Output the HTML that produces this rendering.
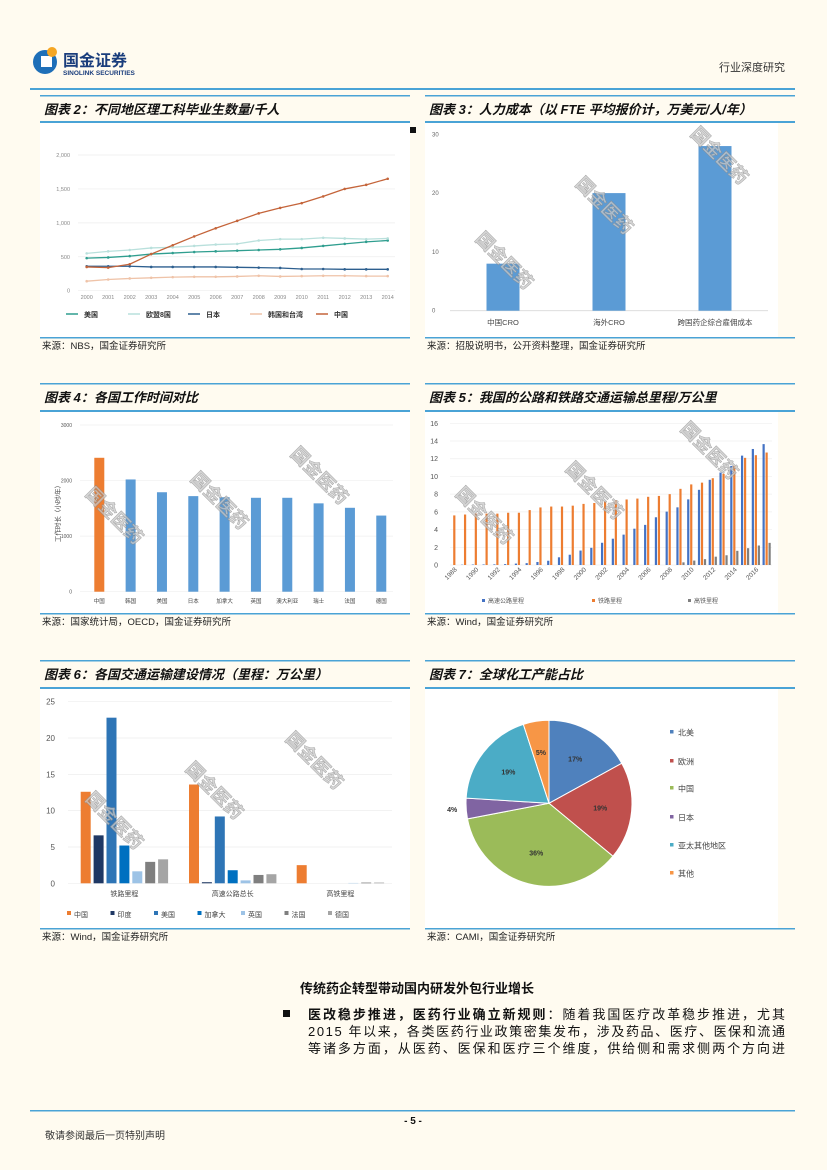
<!DOCTYPE html>
<html><head><meta charset="utf-8">
<style>
html,body{margin:0;padding:0;background:#fffbf0;}
svg{display:block;font-family:"Liberation Sans","Noto Sans CJK SC",sans-serif;}
</style></head><body>
<svg id="page" width="827" height="1170" viewBox="0 0 827 1170" xmlns="http://www.w3.org/2000/svg">
<rect x="0" y="0" width="827" height="1170" fill="#fffbf0"/>
<g>
<circle cx="45" cy="62" r="12" fill="#1e6fb8"/>
<rect x="41" y="56" width="11" height="11" fill="#fff"/>
<circle cx="52" cy="52" r="5" fill="#f5a623"/>
<text x="63" y="66" font-size="16" font-weight="bold" fill="#1a3d7c">国金证券</text>
<text x="63" y="75" font-size="6.5" font-weight="bold" fill="#1a3d7c">SINOLINK SECURITIES</text>
</g>
<text x="785" y="71" font-size="11" fill="#333" text-anchor="end">行业深度研究</text>
<rect x="30" y="88" width="765" height="2" fill="#4aa3d6"/>

<g id="frames"></g>
<g id="c2"></g><g id="c3"></g><g id="c4"></g><g id="c5"></g><g id="c6"></g><g id="c7"></g>
<g id="wm"></g>

<text x="300" y="993" font-size="13" font-weight="bold" fill="#111">传统药企转型带动国内研发外包行业增长</text>
<rect x="283" y="1010" width="7" height="7" fill="#111"/>
<g font-size="13" fill="#111">
<text x="308" y="1019" textLength="477"><tspan font-weight="bold">医改稳步推进，医药行业确立新规则</tspan>：随着我国医疗改革稳步推进，尤其</text>
<text x="308" y="1036" textLength="477">2015 年以来，各类医药行业政策密集发布，涉及药品、医疗、医保和流通</text>
<text x="308" y="1053" textLength="477">等诸多方面，从医药、医保和医疗三个维度，供给侧和需求侧两个方向进</text>
</g>
<rect x="30" y="1110" width="765" height="1.5" fill="#4aa3d6"/>
<text x="413" y="1124" font-size="10" font-weight="bold" text-anchor="middle" fill="#111">- 5 -</text>
<text x="45" y="1139" font-size="10" fill="#333">敬请参阅最后一页特别声明</text>
</svg>
<script>
const NS="http://www.w3.org/2000/svg";
function mk(p,tag,attrs,txt){const e=document.createElementNS(NS,tag);for(const k in attrs)e.setAttribute(k,attrs[k]);if(txt!==undefined)e.textContent=txt;p.appendChild(e);return e;}
const $=id=>document.getElementById(id);

const c2Years=["2000","2001","2002","2003","2004","2005","2006","2007","2008","2009","2010","2011","2012","2013","2014"];
const c2US=[480,490,510,540,555,570,580,590,600,610,630,660,690,720,740];
const c2EU8=[550,580,600,630,640,660,680,690,740,760,760,780,770,760,770];
const c2JP=[360,360,360,350,350,350,350,345,340,335,320,320,315,315,315];
const c2KT=[140,165,180,190,200,205,205,210,220,210,215,220,220,215,215];
const c2CN=[350,340,390,540,670,800,920,1030,1140,1220,1290,1390,1500,1560,1650];
const c2Ticks=[0,500,1000,1500,2000];
const c2TickLabels=["0","500","1,000","1,500","2,000"];

const c3Cats=["中国CRO","海外CRO","跨国药企综合雇佣成本"];
const c3Vals=[8,20,28];
const c3Ticks=[0,10,20,30];

const c4Cats=["中国","韩国","美国","日本","加拿大","英国","澳大利亚","瑞士","法国","德国"];
const c4Vals=[2410,2020,1790,1720,1700,1690,1690,1590,1510,1370];
const c4Ticks=[0,1000,2000,3000];

const c5Years=[];for(let y=1988;y<=2017;y++)c5Years.push(String(y));
const c5Highway=[0,0.03,0.05,0.06,0.07,0.1,0.16,0.21,0.34,0.48,0.87,1.16,1.63,1.94,2.51,2.97,3.43,4.1,4.53,5.39,6.03,6.51,7.41,8.49,9.62,10.44,11.19,12.35,13.1,13.65];
const c5Rail=[5.6,5.7,5.8,5.8,5.8,5.9,5.9,6.2,6.5,6.6,6.6,6.7,6.9,7.0,7.2,7.3,7.4,7.5,7.7,7.8,8.0,8.6,9.1,9.3,9.8,10.3,11.2,12.1,12.4,12.7];
const c5HSR=[0,0,0,0,0,0,0,0,0,0,0,0,0,0,0,0,0,0,0,0,0,0.3,0.5,0.66,0.94,1.1,1.6,1.9,2.2,2.5];
const c5Ticks=[0,2,4,6,8,10,12,14,16];

const c6Groups=["铁路里程","高速公路总长","高铁里程"];
const c6Countries=["中国","印度","美国","加拿大","英国","法国","德国"];
const c6Rail=[12.6,6.6,22.8,5.2,1.65,2.95,3.3];
const c6Highway=[13.6,0.15,9.2,1.8,0.4,1.15,1.25];
const c6HSR=[2.5,0,0,0,0.05,0.1,0.1];
const c6Ticks=[0,5,10,15,20,25];

const c7Labels=["北美","欧洲","中国","日本","亚太其他地区","其他"];
const c7Vals=[17,19,36,4,19,5];

const F=$('frames');
const panels=[
 {x:40,t:"图表 2：不同地区理工科毕业生数量/千人",ty:95,py:121,pb:337,src:"来源：NBS，国金证券研究所"},
 {x:425,t:"图表 3：人力成本（以 FTE 平均报价计，万美元/人/年）",ty:95,py:121,pb:337,src:"来源：招股说明书，公开资料整理，国金证券研究所"},
 {x:40,t:"图表 4：各国工作时间对比",ty:383,py:410,pb:613,src:"来源：国家统计局，OECD，国金证券研究所"},
 {x:425,t:"图表 5：我国的公路和铁路交通运输总里程/万公里",ty:383,py:410,pb:613,src:"来源：Wind，国金证券研究所"},
 {x:40,t:"图表 6：各国交通运输建设情况（里程：万公里）",ty:660,py:687,pb:928,src:"来源：Wind，国金证券研究所"},
 {x:425,t:"图表 7：全球化工产能占比",ty:660,py:687,pb:928,src:"来源：CAMI，国金证券研究所"}];
panels.forEach((p,i)=>{
 let e=mk(F,'rect',{x:p.x,y:p.ty,width:370,height:1.5,fill:'#4aa3d6'});
 
 e=mk(F,'text',{x:p.x+4,y:p.ty+19,'font-size':13,'font-weight':'bold','font-style':'italic',fill:'#111'},p.t);
 
 e=mk(F,'rect',{x:p.x,y:p.py,width:370,height:2,fill:'#4aa3d6'});
 
 e=mk(F,'rect',{x:p.x,y:p.py+2,width:i%2?353:370,height:p.pb-p.py-2,fill:'#ffffff'});
 
 e=mk(F,'rect',{x:p.x,y:p.pb,width:370,height:1.5,fill:'#4aa3d6'});
 
 e=mk(F,'text',{x:p.x+2,y:p.pb+12,'font-size':9.5,fill:'#222'},p.src);
 
});
{let e=mk(F,'rect',{x:410,y:127,width:6,height:6,fill:'#111'});}

function lin(d0,d1,r0,r1){return v=>r0+(v-d0)/(d1-d0)*(r1-r0);}

(function(){
 const g=$('c2');const y=lin(0,2000,290.7,155);const x=i=>86.7+i*(387.7-86.7)/14;
 c2Ticks.forEach((t,i)=>{let e=mk(g,'line',{x1:78,x2:395,y1:y(t),y2:y(t),stroke:'#eeeeee','stroke-width':0.7});
  e=mk(g,'text',{x:70,y:y(t)+2,'font-size':5.5,fill:'#888','text-anchor':'end'},c2TickLabels[i]);});
 c2Years.forEach((yr,i)=>{const e=mk(g,'text',{x:x(i),y:299,'font-size':5.5,fill:'#888','text-anchor':'middle'},yr);});
 const series=[[c2US,'#2f9e8f','美国'],[c2EU8,'#b9e0dc','欧盟8国'],[c2JP,'#2d5f8f','日本'],[c2KT,'#efc3a8','韩国和台湾'],[c2CN,'#c4643a','中国']];
 const lx=[66,128,188,250,316];
 series.forEach((s,k)=>{
  const pts=s[0].map((v,i)=>x(i)+','+y(v)).join(' ');
  let e=mk(g,'polyline',{points:pts,fill:'none',stroke:s[1],'stroke-width':1.3});
  s[0].forEach((v,i)=>{const m=mk(g,'circle',{cx:x(i),cy:y(v),r:1.3,fill:s[1]});});
  e=mk(g,'line',{x1:lx[k],x2:lx[k]+12,y1:314,y2:314,stroke:s[1],'stroke-width':1.5});
  e=mk(g,'text',{x:lx[k]+18,y:317,'font-size':7,'font-weight':'bold',fill:'#333'},s[2]);
 });
})();

(function(){
 const g=$('c3');const y=lin(0,30,310.7,134.3);const cx=[503,609,715];
 c3Ticks.forEach(t=>{let e=mk(g,'text',{x:432,y:y(t)+2,'font-size':6,fill:'#666'},String(t));});
 let e=mk(g,'line',{x1:450,x2:768,y1:y(0),y2:y(0),stroke:'#d9d9d9','stroke-width':0.8});
 c3Vals.forEach((v,i)=>{let b=mk(g,'rect',{x:cx[i]-16.5,y:y(v),width:33,height:y(0)-y(v),fill:'#5b9bd5'});
  b=mk(g,'text',{x:cx[i],y:325,'font-size':7.5,fill:'#444','text-anchor':'middle'},c3Cats[i]);});
})();

(function(){
 const g=$('c4');const y=lin(0,3000,591.7,425);const cx=i=>99.3+i*31.33;
 c4Ticks.forEach(t=>{let e=mk(g,'line',{x1:80,x2:393,y1:y(t),y2:y(t),stroke:'#efefef','stroke-width':0.7});
  e=mk(g,'text',{x:72,y:y(t)+2,'font-size':5,fill:'#555','text-anchor':'end'},String(t));});
 let e=mk(g,'text',{x:0,y:0,'font-size':6.5,fill:'#444','text-anchor':'middle',transform:'translate(60,512) rotate(-90)'},'工作时长（小时/年）');
 c4Vals.forEach((v,i)=>{let b=mk(g,'rect',{x:cx(i)-5,y:y(v),width:10,height:y(0)-y(v),fill:i===0?'#ed7d31':'#5b9bd5'});
  b=mk(g,'text',{x:cx(i),y:603,'font-size':5.5,fill:'#444','text-anchor':'middle'},c4Cats[i]);});
})();

(function(){
 const g=$('c5');const y=lin(0,16,565,423.3);const cx=i=>454.3+i*10.77;
 c5Ticks.forEach(t=>{let e=mk(g,'line',{x1:450,x2:772,y1:y(t),y2:y(t),stroke:'#efefef','stroke-width':0.7});
  e=mk(g,'text',{x:438,y:y(t)+2.5,'font-size':7,fill:'#555','text-anchor':'end'},String(t));});
 const S=[[c5Highway,'#4472c4',-3],[c5Rail,'#ed7d31',0],[c5HSR,'#7f7f7f',3]];
 c5Years.forEach((yr,i)=>{
  S.forEach(s=>{const v=s[0][i];if(v<=0)return;const b=mk(g,'rect',{x:cx(i)+s[2]-1.1,y:y(v),width:2.2,height:y(0)-y(v),fill:s[1]});});
  if(i%2===0){const t=mk(g,'text',{x:0,y:0,'font-size':6.5,fill:'#555','text-anchor':'end',transform:`translate(${cx(i)+3},570) rotate(-45)`},yr);}
 });
 const L=[['高速公路里程','#4472c4',482],['铁路里程','#ed7d31',592],['高铁里程','#7f7f7f',688]];
 L.forEach(l=>{let e=mk(g,'rect',{x:l[2],y:599,width:3,height:3,fill:l[1]});
  e=mk(g,'text',{x:l[2]+6,y:603,'font-size':6,fill:'#555'},l[0]);});
})();

(function(){
 const g=$('c6');const y=lin(0,25,883.3,701.7);const g0=[85.7,194,301.7];
 const cols=['#ed7d31','#1f3864','#2e75b6','#0070c0','#9dc3e6','#7f7f7f','#a5a5a5'];
 c6Ticks.forEach(t=>{let e=mk(g,'line',{x1:68,x2:392,y1:y(t),y2:y(t),stroke:'#eeeeee','stroke-width':0.7});
  e=mk(g,'text',{x:55,y:y(t)+3,'font-size':8,fill:'#555','text-anchor':'end'},String(t));});
 [c6Rail,c6Highway,c6HSR].forEach((arr,gi)=>{
  arr.forEach((v,k)=>{if(v<=0)return;const b=mk(g,'rect',{x:g0[gi]+k*12.9-5,y:y(v),width:10,height:y(0)-y(v),fill:cols[k]});});
  const t=mk(g,'text',{x:g0[gi]+38.7,y:896,'font-size':7,fill:'#444','text-anchor':'middle'},c6Groups[gi]);
 });
 c6Countries.forEach((c,k)=>{const lx=67+k*43.5;let e=mk(g,'rect',{x:lx,y:911,width:4,height:4,fill:cols[k]});
  e=mk(g,'text',{x:lx+7,y:917,'font-size':7,fill:'#444'},c);});
})();

(function(){
 const g=$('c7');const cx=549,cy=803.3,r=83;
 const cols=['#4f81bd','#c0504d','#9bbb59','#8064a2','#4bacc6','#f79646'];
 const tot=c7Vals.reduce((a,b)=>a+b,0);let a=-Math.PI/2;
 c7Vals.forEach((v,i)=>{const da=v/tot*2*Math.PI;const a2=a+da;
  const p=`M${cx},${cy} L${cx+r*Math.cos(a)},${cy+r*Math.sin(a)} A${r},${r} 0 ${da>Math.PI?1:0} 1 ${cx+r*Math.cos(a2)},${cy+r*Math.sin(a2)} Z`;
  let e=mk(g,'path',{d:p,fill:cols[i],stroke:'#fff','stroke-width':1});
  const m=(a+a2)/2;const rr=v<5?r+14:r*0.62;
  e=mk(g,'text',{x:cx+rr*Math.cos(m),y:cy+rr*Math.sin(m)+2.5,'font-size':7,'font-weight':'bold',fill:'#333','text-anchor':'middle'},v+'%');
  a=a2;});
 const ly=[733,762,789,818,846,874];
 c7Labels.forEach((l,i)=>{let e=mk(g,'rect',{x:670,y:ly[i]-3,width:3.5,height:3.5,fill:cols[i]});
  e=mk(g,'text',{x:678,y:ly[i]+2.5,'font-size':8,fill:'#444'},l);});
})();

(function(){
 const W=$('wm');const pos=[[500,265],[600,210],[715,160],[110,520],[215,505],[315,480],[480,520],[590,495],[705,455],[110,825],[210,795],[310,765]];
 pos.forEach(p=>{const e=mk(W,'text',{x:0,y:0,'font-size':18,'font-weight':'bold',fill:'#c8c8c8',stroke:'#8a8a8a','stroke-width':0.5,opacity:0.75,'text-anchor':'middle',transform:`translate(${p[0]},${p[1]}) rotate(45)`},'国金医药');
  });
})();
</script>
</body></html>
